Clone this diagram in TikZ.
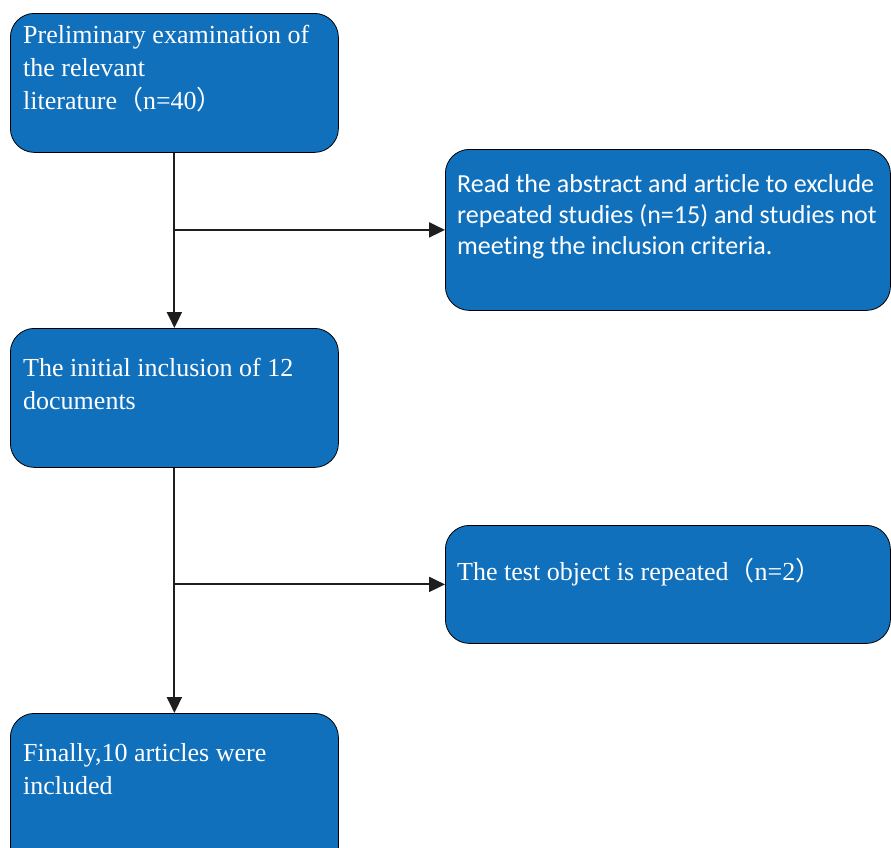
\documentclass[tikz,border=0pt]{standalone}
\usepackage{fontspec}
\setmainfont{Liberation Serif}
\newfontfamily\calfont[Ligatures=NoCommon]{Carlito}
\newfontfamily\cjk{Noto Sans CJK SC}
\usepackage{xcolor}
\definecolor{BoxBlue}{HTML}{1170BC}
\definecolor{LineDark}{HTML}{1E1E1E}
\usepackage{tikz}
\usetikzlibrary{calc, positioning, arrows.meta}
\newcommand{\lpar}{{\cjk （}}
\newcommand{\rpar}{{\cjk ）}}

\begin{document}
\begin{tikzpicture}[
    x=1pt, y=-1pt,
    box/.style={draw=black, fill=BoxBlue, rounded corners=24pt, anchor=north west,
                inner sep=0pt, line width=0.8pt},
    txt/.style={text=white, align=left, anchor=base west, inner sep=0pt,
                font=\fontsize{26}{33}\selectfont},
    sanstxt/.style={txt, font=\calfont\fontsize{26}{31}\selectfont},
    arr/.style={-{Triangle[length=16pt, width=15pt]}, line width=2pt, draw=LineDark}
  ]
    \useasboundingbox[fill=white] (0,0) rectangle (891,847);

    \node[box, minimum width=328pt, minimum height=139pt] (lit) at (10,13) {};
    \node[box, minimum width=445pt, minimum height=161pt] (excl) at (445,149) {};
    \node[box, minimum width=328pt, minimum height=139pt] (init) at (10,328) {};
    \node[box, minimum width=445pt, minimum height=118pt] (rep) at (445,525) {};
    \node[box, minimum width=328pt, minimum height=160pt] (final) at (10,713) {};

    % base west = baseline of the last line
    \node[txt] (littxt) at ($(lit.north west)+(13,96)$)
      {Preliminary examination of\\the relevant\\literature\lpar n=40\rpar};
    \node[sanstxt] (excltxt) at ($(excl.north west)+(12,105)$)
      {Read the abstract and article to exclude\\repeated studies (n=15) and studies not\\meeting the inclusion criteria.};
    \node[txt] (inittxt) at ($(init.north west)+(13,81)$)
      {The initial inclusion of 12\\documents};
    \node[txt] (reptxt) at ($(rep.north west)+(12,55)$)
      {The test object is repeated\lpar n=2\rpar};
    \node[txt] (finaltxt) at ($(final.north west)+(13,81)$)
      {Finally,10 articles were\\included};

    \draw[arr] (lit.south) -- (init.north);
    \draw[arr] (lit.south |- excl.west) -- (excl.west);
    \draw[arr] (init.south) -- (final.north);
    \draw[arr] (init.south |- rep.west) -- (rep.west);
\end{tikzpicture}
\end{document}
